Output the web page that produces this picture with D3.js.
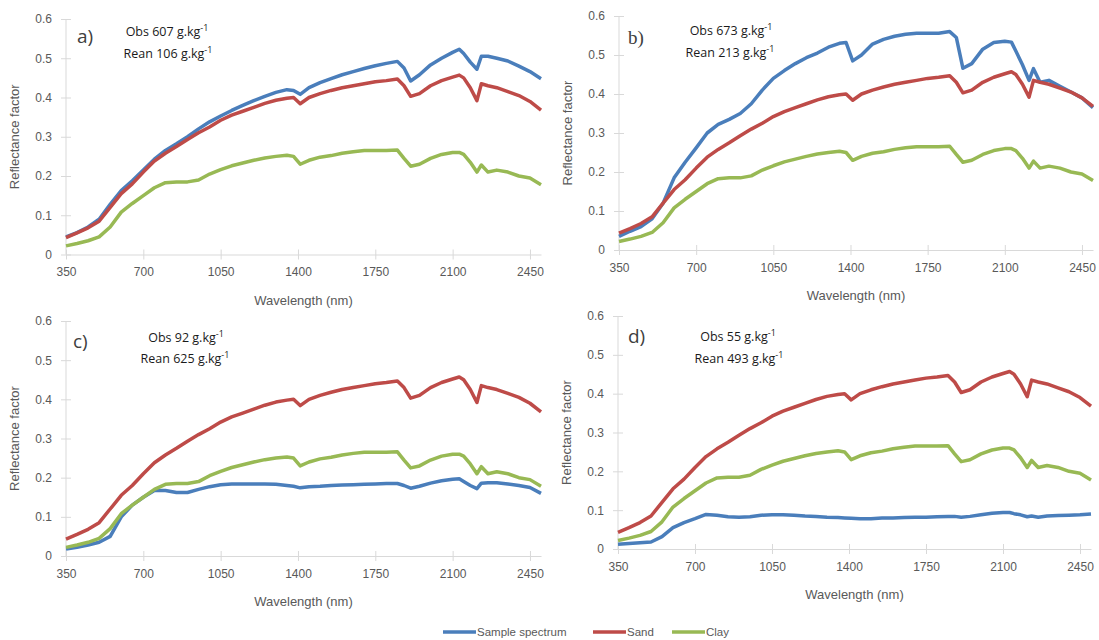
<!DOCTYPE html>
<html>
<head>
<meta charset="utf-8">
<script src="https://cdn.jsdelivr.net/npm/d3@7"></script>
<style>
    body { margin: 0; background: #fff; }
    svg { display: block; }
    .axis path, .axis line { stroke: #d9d9d9; }
    .axis text { fill: #595959; font-family: "Liberation Sans", Arial, sans-serif; font-size: 12px; }
    .title { fill: #595959; font-family: "Liberation Sans", Arial, sans-serif; font-size: 13px; }
    .note { fill: #1a1a1a; font-family: "Open Sans", sans-serif; font-size: 12.5px; }
    .legend text { fill: #595959; font-family: "Liberation Sans", Arial, sans-serif; font-size: 11.5px; }
</style>
</head>
<body>
<div id="chart"></div>
<script>
// wavelength grid (nm) shared by every series
const wavelengths = [350, 400, 450, 500, 550, 600, 650, 700, 750, 800, 850, 900, 950, 1000,
    1050, 1100, 1150, 1200, 1250, 1300, 1350, 1380, 1410, 1450, 1500, 1550, 1600, 1650,
    1700, 1750, 1800, 1850, 1880, 1910, 1950, 2000, 2050, 2100, 2130, 2150, 2180, 2210,
    2230, 2260, 2300, 2350, 2400, 2450, 2500];

// reference end-members (same in all four panels)
const sand = [0.043, 0.055, 0.068, 0.085, 0.12, 0.155, 0.18, 0.21, 0.238, 0.258, 0.275, 0.293, 0.31, 0.325,
    0.342, 0.355, 0.365, 0.375, 0.385, 0.393, 0.398, 0.40, 0.384, 0.40, 0.41, 0.418, 0.425, 0.43,
    0.435, 0.44, 0.443, 0.447, 0.43, 0.403, 0.41, 0.43, 0.443, 0.452, 0.457, 0.45, 0.425, 0.392,
    0.435, 0.43, 0.425, 0.415, 0.405, 0.39, 0.368];
const clay = [0.022, 0.028, 0.035, 0.045, 0.07, 0.108, 0.13, 0.15, 0.17, 0.183, 0.185, 0.185, 0.19, 0.205,
    0.216, 0.226, 0.233, 0.24, 0.246, 0.25, 0.253, 0.25, 0.23, 0.24, 0.248, 0.252, 0.258, 0.262,
    0.265, 0.265, 0.265, 0.266, 0.245, 0.225, 0.23, 0.245, 0.255, 0.26, 0.26, 0.255, 0.235, 0.21,
    0.228, 0.21, 0.215, 0.21, 0.2, 0.195, 0.178];

// sample spectra, one per panel
const sampleA = [0.045, 0.056, 0.07, 0.09, 0.128, 0.163, 0.188, 0.215, 0.243, 0.265, 0.282, 0.3, 0.32, 0.338,
    0.353, 0.367, 0.38, 0.392, 0.403, 0.413, 0.42, 0.418, 0.408, 0.425, 0.438, 0.448, 0.458, 0.466,
    0.474, 0.481, 0.487, 0.492, 0.475, 0.442, 0.458, 0.483, 0.5, 0.515, 0.523, 0.512, 0.49, 0.472,
    0.505, 0.505, 0.5, 0.493, 0.48, 0.466, 0.448];
const sampleB = [0.035, 0.048, 0.06, 0.08, 0.12, 0.185, 0.225, 0.262, 0.3, 0.322, 0.335, 0.35, 0.375, 0.41,
    0.44, 0.46, 0.478, 0.493, 0.505, 0.52, 0.53, 0.532, 0.485, 0.50, 0.528, 0.54, 0.548, 0.553,
    0.556, 0.556, 0.556, 0.56, 0.545, 0.466, 0.478, 0.515, 0.532, 0.535, 0.533, 0.51, 0.475, 0.435,
    0.465, 0.43, 0.435, 0.42, 0.405, 0.39, 0.365];
const sampleC = [0.018, 0.022, 0.028, 0.035, 0.05, 0.1, 0.13, 0.15, 0.167, 0.167, 0.162, 0.162, 0.17, 0.177,
    0.182, 0.184, 0.184, 0.184, 0.184, 0.183, 0.18, 0.178, 0.174, 0.177, 0.178, 0.18, 0.181, 0.182,
    0.183, 0.184, 0.185, 0.185, 0.18, 0.173, 0.178, 0.186, 0.192, 0.196, 0.197, 0.19, 0.18, 0.172,
    0.186, 0.187, 0.187, 0.184, 0.18, 0.175, 0.16];
const sampleD = [0.012, 0.014, 0.016, 0.018, 0.032, 0.055, 0.068, 0.078, 0.089, 0.087, 0.083, 0.082, 0.083, 0.087,
    0.088, 0.088, 0.087, 0.085, 0.084, 0.082, 0.081, 0.08, 0.079, 0.078, 0.078, 0.08, 0.08, 0.081,
    0.082, 0.082, 0.083, 0.084, 0.084, 0.082, 0.084, 0.088, 0.092, 0.094, 0.094, 0.091, 0.088, 0.083,
    0.085, 0.082, 0.085, 0.086, 0.087, 0.088, 0.09];

const samples = [sampleA, sampleB, sampleC, sampleD];
const panelLabels = ["a)", "b)", "c)", "d)"];
const obsValues = [607, 673, 92, 55];
const reanValues = [106, 213, 625, 493];

const seriesNames = ["Sample spectrum", "Sand", "Clay"];
const seriesColors = ["#4a7ebb", "#be4b48", "#98b954"];

const xTicks = [350, 700, 1050, 1400, 1750, 2100, 2450];
const yTicks = [0, 0.1, 0.2, 0.3, 0.4, 0.5, 0.6];
const xDomain = [350, 2500];
const yDomain = [0, 0.6];

// plot boxes and annotation spots, in pixels
const boxes = [
    { left: 66, right: 541, top: 19, bottom: 254.5, label: [77, 43, "Open Sans"], obs: [167, 36], rean: [168, 58] },
    { left: 619, right: 1093, top: 16, bottom: 250, label: [628, 44, "Liberation Serif"], obs: [731, 35], rean: [730, 57] },
    { left: 66, right: 541, top: 321, bottom: 556, label: [73, 348, "Open Sans"], obs: [186, 342], rean: [185, 363] },
    { left: 618, right: 1091, top: 316, bottom: 549, label: [628, 343, "Open Sans"], obs: [738, 341], rean: [739, 363] }
];

const width = 1099, height = 640;
const svg = d3.select("#chart").append("svg")
    .attr("width", width)
    .attr("height", height);

boxes.forEach((b, p) => {
    const x = d3.scaleLinear().domain(xDomain).range([b.left, b.right]);
    const y = d3.scaleLinear().domain(yDomain).range([b.bottom, b.top]);
    const g = svg.append("g");

    // axes with ticks crossing the line
    const xa = g.append("g")
        .attr("class", "axis")
        .attr("transform", "translate(0," + b.bottom + ")")
        .call(d3.axisBottom(x).tickValues(xTicks).tickSize(5).tickSizeOuter(0).tickPadding(8).tickFormat(d3.format("d")));
    xa.selectAll(".tick line").attr("y1", -5).attr("y2", 5);

    const ya = g.append("g")
        .attr("class", "axis")
        .attr("transform", "translate(" + b.left + ",0)")
        .call(d3.axisLeft(y).tickValues(yTicks).tickSize(5).tickSizeOuter(0).tickPadding(9).tickFormat(d => d === 0 ? "0" : d3.format(".1f")(d)));
    ya.selectAll(".tick line").attr("x1", -5).attr("x2", 5);
    ya.select(".domain").attr("d", "M0," + y(0) + "V" + y(0.6));

    g.append("text")
        .attr("class", "title")
        .attr("text-anchor", "middle")
        .attr("x", (b.left + b.right) / 2)
        .attr("y", b.bottom + 50)
        .text("Wavelength (nm)");

    g.append("text")
        .attr("class", "title")
        .attr("text-anchor", "middle")
        .attr("transform", "translate(" + (b.left - 47) + "," + (b.top + b.bottom) / 2 + ") rotate(-90)")
        .text("Reflectance factor");

    // lines: sample first, then sand, then clay on top
    const line = d3.line()
        .x((d, i) => x(wavelengths[i]))
        .y(d => y(d));
    [samples[p], sand, clay].forEach((values, s) => {
        g.append("path")
            .datum(values)
            .attr("fill", "none")
            .attr("stroke", seriesColors[s])
            .attr("stroke-width", 3.5)
            .attr("stroke-linejoin", "round")
            .attr("d", line);
    });

    // panel letter and the two concentrations
    g.append("text")
        .attr("x", b.label[0])
        .attr("y", b.label[1])
        .attr("fill", "#404040")
        .style("font-family", b.label[2])
        .style("font-size", "19px")
        .text(panelLabels[p]);

    [["Obs " + obsValues[p], b.obs], ["Rean " + reanValues[p], b.rean]].forEach(([txt, pos]) => {
        const t = g.append("text")
            .attr("class", "note")
            .attr("text-anchor", "middle")
            .attr("x", pos[0])
            .attr("y", pos[1]);
        t.append("tspan").text(txt + " g.kg");
        t.append("tspan").attr("dy", -5).style("font-size", "9px").text("-1");
    });
});

// legend along the bottom
const legendX = [443, 593, 672];
const legend = svg.append("g").attr("class", "legend");
seriesNames.forEach((name, i) => {
    legend.append("line")
        .attr("x1", legendX[i]).attr("x2", legendX[i] + 33)
        .attr("y1", 632).attr("y2", 632)
        .attr("stroke", seriesColors[i])
        .attr("stroke-width", 3.5);
    legend.append("text")
        .attr("x", legendX[i] + 34)
        .attr("y", 636)
        .text(name);
});
</script>
</body>
</html>
